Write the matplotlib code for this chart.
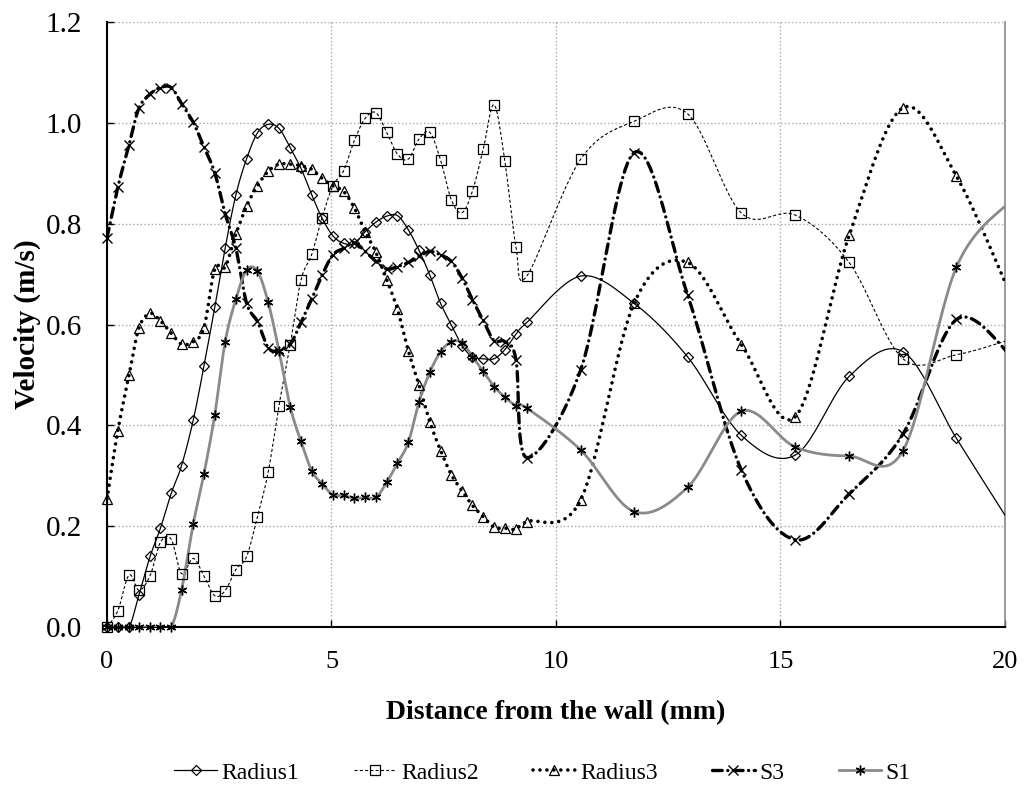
import numpy as np
import matplotlib
matplotlib.use("Agg")
import matplotlib.pyplot as plt
from matplotlib.lines import Line2D

plt.rcParams['font.family'] = ['Liberation Serif', 'DejaVu Serif']
plt.rcParams['lines.scale_dashes'] = False

# distance from the wall (mm), same sampling for every series
dist = [0, 0.24, 0.49, 0.71, 0.96, 1.19, 1.43, 1.66, 1.92, 2.16,
        2.40, 2.63, 2.87, 3.11, 3.35, 3.59, 3.83, 4.08, 4.32, 4.56,
        4.79, 5.03, 5.27, 5.51, 5.75, 5.99, 6.23, 6.47, 6.71, 6.95,
        7.19, 7.43, 7.67, 7.91, 8.14, 8.38, 8.62, 8.86, 9.11, 9.35,
        10.55, 11.74, 12.93, 14.13, 15.33, 16.53, 17.73, 18.92, 20.12]

radius1 = [0, 0, 0, 0.063, 0.14, 0.196, 0.265, 0.32, 0.41, 0.518,
           0.634, 0.751, 0.857, 0.929, 0.98, 0.997, 0.989, 0.951, 0.91, 0.857,
           0.811, 0.776, 0.761, 0.761, 0.784, 0.803, 0.815, 0.816, 0.788, 0.747,
           0.698, 0.642, 0.599, 0.558, 0.536, 0.532, 0.532, 0.55, 0.581, 0.604,
           0.696, 0.642, 0.536, 0.38, 0.341, 0.497, 0.546, 0.374, 0.205]

radius2 = [0, 0.032, 0.103, 0.073, 0.102, 0.168, 0.174, 0.106, 0.136, 0.101,
           0.062, 0.072, 0.114, 0.14, 0.219, 0.307, 0.439, 0.56, 0.688, 0.739,
           0.812, 0.875, 0.905, 0.965, 1.009, 1.02, 0.981, 0.938, 0.928, 0.968,
           0.981, 0.926, 0.847, 0.822, 0.865, 0.948, 1.036, 0.925, 0.753, 0.696,
           0.928, 1.003, 1.018, 0.821, 0.817, 0.723, 0.532, 0.54, 0.57]

radius3 = [0.254, 0.389, 0.499, 0.593, 0.622, 0.607, 0.583, 0.561, 0.566, 0.594,
           0.710, 0.714, 0.779, 0.835, 0.875, 0.904, 0.918, 0.918, 0.915, 0.908,
           0.890, 0.875, 0.864, 0.831, 0.784, 0.743, 0.689, 0.630, 0.548, 0.480,
           0.407, 0.350, 0.302, 0.270, 0.241, 0.219, 0.198, 0.196, 0.194, 0.209,
           0.252, 0.642, 0.723, 0.56, 0.417, 0.777, 1.030, 0.894, 0.66]

s3 = [0.772, 0.872, 0.956, 1.029, 1.057, 1.070, 1.070, 1.038, 1.001, 0.952,
      0.901, 0.820, 0.751, 0.642, 0.606, 0.554, 0.548, 0.561, 0.604, 0.651,
      0.698, 0.738, 0.751, 0.762, 0.745, 0.725, 0.710, 0.715, 0.723, 0.735,
      0.745, 0.738, 0.725, 0.692, 0.649, 0.608, 0.568, 0.566, 0.530, 0.336,
      0.510, 0.941, 0.659, 0.311, 0.173, 0.264, 0.383, 0.610, 0.54]

s1 = [0, 0, 0, 0, 0, 0, 0, 0.073, 0.204, 0.304,
      0.421, 0.565, 0.650, 0.708, 0.706, 0.644, 0.548, 0.437, 0.368, 0.310,
      0.284, 0.262, 0.261, 0.255, 0.257, 0.257, 0.287, 0.325, 0.366, 0.447,
      0.505, 0.546, 0.566, 0.564, 0.536, 0.507, 0.477, 0.456, 0.439, 0.434,
      0.351, 0.229, 0.277, 0.428, 0.357, 0.339, 0.350, 0.714, 0.845]


def smooth(x, y, n=25):
    # excel-like smoothed line (catmull-rom bezier through the points)
    pts = np.column_stack([x, y]).astype(float)
    out = [pts[:1]]
    t = np.linspace(0, 1, n)[1:, None]
    for i in range(len(pts) - 1):
        p0 = pts[i - 1] if i > 0 else pts[i]
        p1 = pts[i]
        p2 = pts[i + 1]
        p3 = pts[i + 2] if i + 2 < len(pts) else pts[i + 1]
        c1 = p1 + (p2 - p0) / 6
        c2 = p2 - (p3 - p1) / 6
        seg = (1 - t)**3 * p1 + 3 * (1 - t)**2 * t * c1 + 3 * (1 - t) * t**2 * c2 + t**3 * p2
        out.append(seg)
    out = np.vstack(out)
    return out[:, 0], out[:, 1]


styles = [
    ("Radius1", radius1, dict(color='black', lw=0.9, ls='-'),
     dict(marker='D', ms=5.5, mfc='none', mec='black', mew=0.9)),
    ("Radius2", radius2, dict(color='black', lw=0.8, dashes=(2.2, 1.6)),
     dict(marker='s', ms=6.5, mfc='none', mec='black', mew=0.9)),
    ("Radius3", radius3, dict(color='black', lw=2.6, dashes=(0.01, 5.0), dash_capstyle='round'),
     dict(marker='^', ms=7.5, mfc='none', mec='black', mew=0.9)),
    ("S3", s3, dict(color='black', lw=2.4, dashes=(7, 4, 0.01, 4), dash_capstyle='round'),
     dict(marker='x', ms=7, mfc='none', mec='black', mew=1.0)),
    ("S1", s1, dict(color='#8a8a8a', lw=2.0, ls='-'),
     dict(marker=(6, 2, 0), ms=7, mfc='none', mec='black', mew=1.0)),
]

fig = plt.figure(figsize=(10.24, 7.86), dpi=100)
ax = fig.add_axes([0.1045, 0.2023, 0.8769, 0.7697])

xd = np.array(dist)
inside = xd <= 20
handles = []
for name, vals, lstyle, mstyle in styles:
    sx, sy = smooth(dist, vals)
    ax.plot(sx, sy, zorder=3, **lstyle)
    ax.plot(xd[inside], np.array(vals)[inside], ls='none', clip_on=False, zorder=4, **mstyle)
    handles.append(Line2D([], [], label=name, **lstyle, **mstyle))

ax.set_xlim(0, 20)
ax.set_ylim(0, 1.2)
ax.set_xticks([0, 5, 10, 15, 20])
ax.set_yticks(np.arange(0, 1.21, 0.2))
ax.set_yticklabels([f"{v:.1f}" for v in np.arange(0, 1.21, 0.2)])
ax.grid(True, color='#a8a8a8', ls=':', lw=1.0, zorder=0)
ax.tick_params(direction='in', length=5, width=1, top=False, right=False)
ax.tick_params(axis='x', labelsize=19, pad=17)
ax.tick_params(axis='y', labelsize=21, pad=18)

for side in ['left', 'bottom']:
    ax.spines[side].set_linewidth(1.5)
ax.spines['top'].set_visible(False)
ax.spines['right'].set_color('#8a8a8a')
ax.spines['right'].set_linewidth(1.2)

ax.set_xlabel("Distance from the wall (mm)", fontsize=20, fontweight='bold', labelpad=20)
ax.set_ylabel("Velocity (m/s)", fontsize=21, fontweight='bold', labelpad=3)

fig.legend(handles=handles, loc='lower center', bbox_to_anchor=(0.53, -0.024),
           ncol=5, frameon=False, fontsize=17, handlelength=1.8,
           handletextpad=0.2, columnspacing=2.3)

fig.savefig("out.png", dpi=100)
